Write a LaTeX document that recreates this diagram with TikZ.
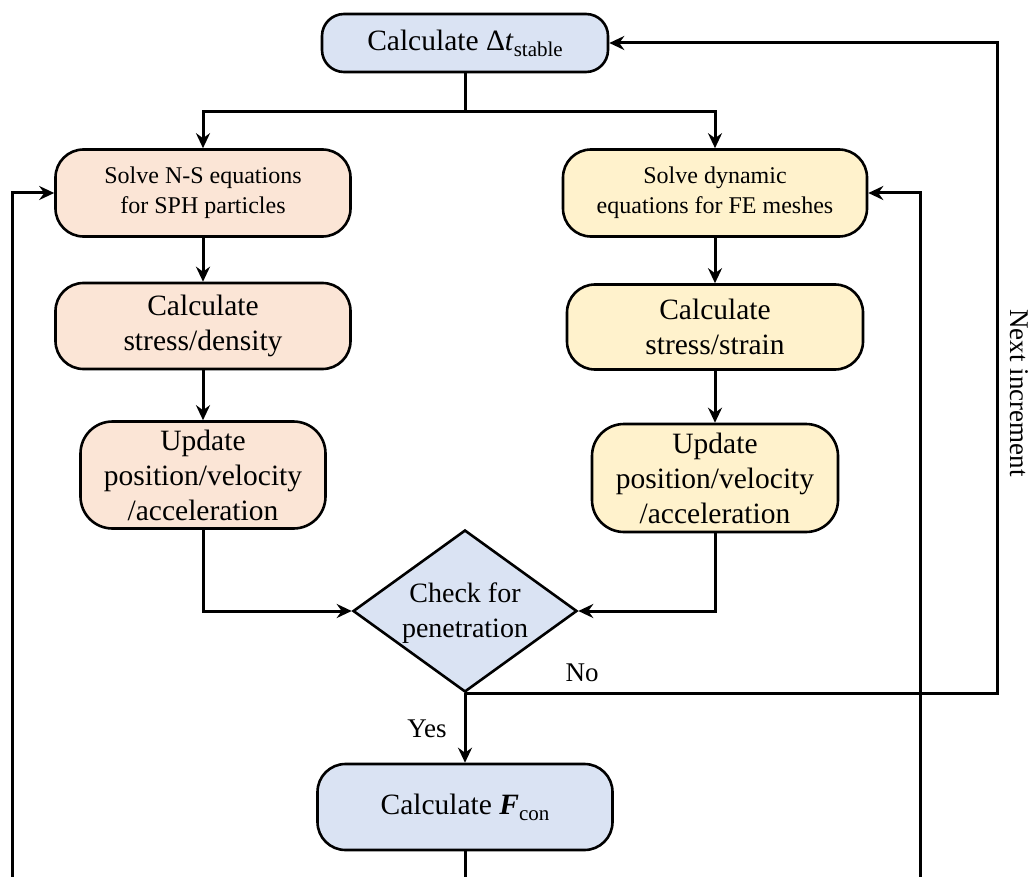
\documentclass[tikz,border=0pt]{standalone}
\usepackage{fontspec}
\setmainfont{Liberation Serif}
\usetikzlibrary{shapes.geometric,arrows.meta}
\definecolor{boxblue}{HTML}{DAE3F3}
\definecolor{boxorange}{HTML}{FBE5D6}
\definecolor{boxyellow}{HTML}{FFF2CC}
\begin{document}
\begin{tikzpicture}[x=1pt,y=-1pt,
  line width=3pt,
  procbox/.style={draw=black, line width=2.6pt, rectangle, rounded corners=28pt, align=center, inner sep=0pt,
    font=\fontsize{29.5}{35}\selectfont},
  smallbox/.style={procbox, font=\fontsize{24}{30}\selectfont},
  decide/.style={draw=black, line width=2.6pt, diamond, inner sep=0pt, minimum width=224pt, minimum height=162pt, fill=boxblue},
  dtext/.style={align=center, inner sep=0pt, font=\fontsize{28}{35}\selectfont},
  conn/.style={draw=black, line width=3pt, -{Stealth[length=15pt,width=14pt,inset=5pt]}},
  plain/.style={draw=black, line width=3pt},
  lbl/.style={font=\fontsize{27}{30}\selectfont, inner sep=0pt}
]
\useasboundingbox (0,0) rectangle (1035,877);

\node[procbox, fill=boxblue, minimum width=286pt, minimum height=58pt, rounded corners=22pt] (top) at (465,43)
  {Calculate Δ\textit{t}\raisebox{-0.45ex}{\fontsize{21}{21}\selectfont stable}};

\node[smallbox, fill=boxorange, minimum width=295pt, minimum height=87pt] (L1) at (203,193)
  {Solve N-S equations\\for SPH particles};
\node[procbox, fill=boxorange, minimum width=295pt, minimum height=86pt] (L2) at (203,326)
  {Calculate\\stress/density};
\node[procbox, fill=boxorange, minimum width=245pt, minimum height=107pt, rounded corners=32pt] (L3) at (203,475)
  {Update\\position/velocity\\/acceleration};

\node[smallbox, fill=boxyellow, minimum width=304pt, minimum height=87pt] (R1) at (715,193)
  {Solve dynamic\\equations for FE meshes};
\node[procbox, fill=boxyellow, minimum width=296pt, minimum height=85pt] (R2) at (715,327)
  {Calculate\\stress/strain};
\node[procbox, fill=boxyellow, minimum width=246pt, minimum height=108pt, rounded corners=32pt] (R3) at (715,478)
  {Update\\position/velocity\\/acceleration};

\node[decide] (D) at (465,611) {};
\node[dtext] (Dt) at (465,613) {Check for\\penetration};

\node[procbox, fill=boxblue, minimum width=295pt, minimum height=86pt] (F) at (465,807)
  {Calculate \textbf{\textit{F}}\raisebox{-0.45ex}{\fontsize{21}{21}\selectfont con}};

\coordinate (sp) at (465,112);
\coordinate (nr) at (997,692);
\coordinate (fb) at (465,877);
\coordinate (lb) at (12,877);
\coordinate (rb) at (920,877);

\draw[plain] (top.south) -- (sp);
\draw[conn] (sp) -| (L1.north);
\draw[conn] (sp) -| (R1.north);
\draw[conn] (L1) -- (L2);
\draw[conn] (L2) -- (L3);
\draw[conn] (R1) -- (R2);
\draw[conn] (R2) -- (R3);
\draw[conn] (L3.south) |- (D.west);
\draw[conn] (R3.south) |- (D.east);
\draw[conn] (D.south) -- (D.south -| nr) |- (top.east);
\draw[conn] (D.south) -- (F.north);
\draw[plain] (F.south) -- (fb);
\draw[conn] (lb) |- (L1.west);
\draw[conn] (rb) |- (R1.east);

\node[lbl] (no) at (582,673) {No};
\node[lbl] (yes) at (427,729) {Yes};
\node[lbl, rotate=-90] (next) at (1019,393) {Next increment};
\end{tikzpicture}
\end{document}
